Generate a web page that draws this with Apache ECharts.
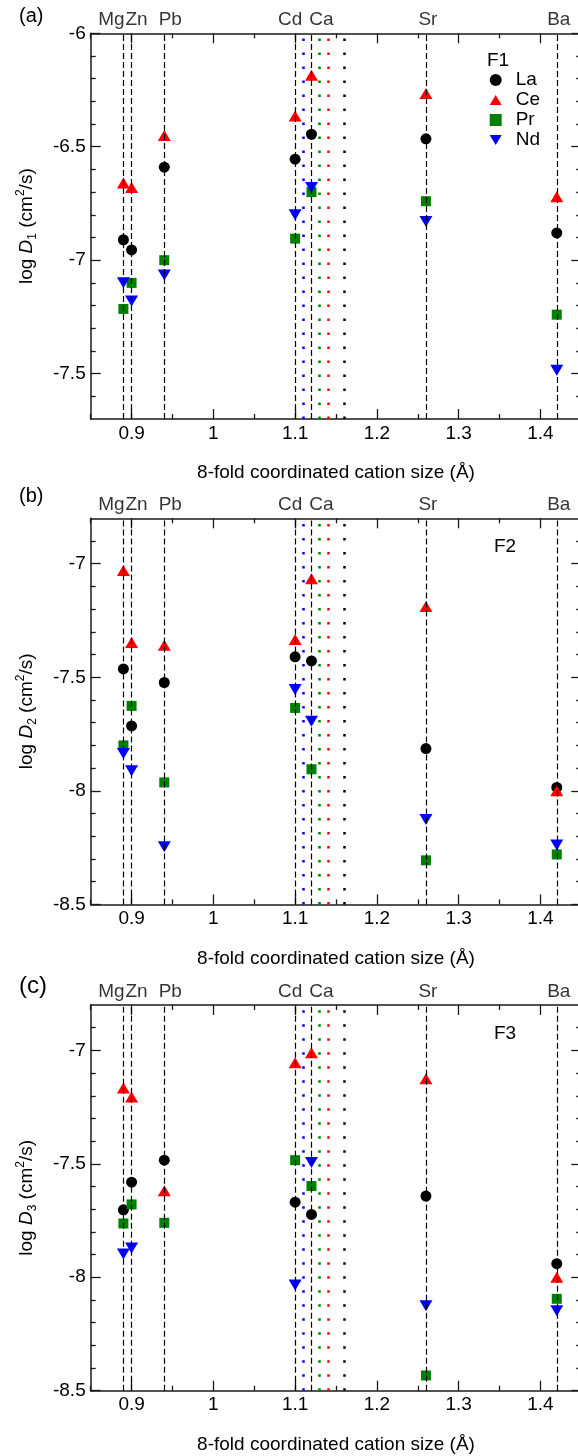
<!DOCTYPE html>
<html><head><meta charset="utf-8">
<script src="https://cdn.jsdelivr.net/npm/echarts@6/dist/echarts.min.js"></script>
<style>html,body{margin:0;padding:0;background:#fff}#c{width:578px;height:1456px}</style>
</head><body><div id="c"></div>
<script>
// ---------- data ----------
const cations = ['Mg', 'Zn', 'Pb', 'Cd', 'Ca', 'Sr', 'Ba'];
const cationSize = [0.89, 0.90, 0.94, 1.10, 1.12, 1.26, 1.42];
const dottedSize = [1.11, 1.13, 1.14, 1.16];
const dottedColor = ['#0000ff', '#008000', '#ff0000', '#000000'];
const species = ['La', 'Ce', 'Pr', 'Nd'];

const F1_La = [-6.91, -6.955, -6.59, -6.555, -6.445, -6.465, -6.88];
const F1_Ce = [-6.66, -6.68, -6.45, -6.365, -6.185, -6.265, -6.72];
const F1_Pr = [-7.215, -7.10, -7.00, -6.905, -6.70, -6.74, -7.24];
const F1_Nd = [-7.10, -7.18, -7.065, -6.80, -6.68, -6.83, -7.485];

const F2_La = [-7.463, -7.714, -7.523, -7.41, -7.428, -7.814, -7.985];
const F2_Ce = [-7.03, -7.347, -7.359, -7.334, -7.066, -7.188, -8.0];
const F2_Pr = [-7.80, -7.626, -7.963, -7.635, -7.905, -8.306, -8.28];
const F2_Nd = [-7.836, -7.912, -8.246, -7.554, -7.694, -8.126, -8.239];

const F3_La = [-7.703, -7.581, -7.484, -7.669, -7.723, -7.642, -7.94];
const F3_Ce = [-7.166, -7.205, -7.619, -7.054, -7.01, -7.125, -8.0];
const F3_Pr = [-7.763, -7.679, -7.76, -7.484, -7.598, -8.433, -8.095];
const F3_Nd = [-7.897, -7.871, null, -8.034, -7.494, -8.126, -8.148];

const xMin = 0.85, xMax = 1.45;
const xMajorTicks = [0.9, 1.0, 1.1, 1.2, 1.3, 1.4];
const xMinorTicks = [0.85, 0.95, 1.05, 1.15, 1.25, 1.35, 1.45];
const yMinA = -7.7, yMaxA = -6;
const yMajorTicksA = [-7.5, -7, -6.5, -6];
const yMinorTicksA = [-7.6, -7.4, -7.3, -7.2, -7.1, -6.9, -6.8, -6.7, -6.6, -6.4, -6.3, -6.2, -6.1];
const yMinBC = -8.5, yMaxBC = -6.8;
const yMajorTicksBC = [-8.5, -8, -7.5, -7];
const yMinorTicksBC = [-8.4, -8.3, -8.2, -8.1, -7.9, -7.8, -7.7, -7.6, -7.4, -7.3, -7.2, -7.1, -6.9];

const panelTags = ['(a)', '(b)', '(c)'];
const setTags = ['F1', 'F2', 'F3'];
const ySubs = ['1', '2', '3'];
const xTitle = '8-fold coordinated cation size (Å)';

// ---------- styling / layout ----------
const FONT = '"Liberation Sans", Arial, Helvetica, sans-serif';
const AX = '#1a1a1a';
const gridTops = [33.3, 518.3, 1005];
const gridHeights = [385.7, 386.1, 385.7];
const labelOffsets = [[-12, 0], [5, 0], [6, 0], [-5, 0], [10, 0], [2, 0], [2, 0]];
const DOWN_TRI = 'path://M0,0L2,0L1,1.7Z';
const UP_TRI = 'path://M1,0L2,1.7L0,1.7Z';
const markerStyle = {
  La: {symbol: 'circle', symbolSize: 11, color: '#000000', icon: 'circle'},
  Ce: {symbol: UP_TRI, symbolSize: [13, 11], color: '#ff0000', icon: UP_TRI},
  Pr: {symbol: 'rect', symbolSize: 10, color: '#008000', icon: 'rect'},
  Nd: {symbol: DOWN_TRI, symbolSize: [13, 11], color: '#0000ff', icon: DOWN_TRI}
};

const panels = [
  {vals: {La: F1_La, Ce: F1_Ce, Pr: F1_Pr, Nd: F1_Nd}, yMin: yMinA, yMax: yMaxA, yMaj: yMajorTicksA, yMin2: yMinorTicksA},
  {vals: {La: F2_La, Ce: F2_Ce, Pr: F2_Pr, Nd: F2_Nd}, yMin: yMinBC, yMax: yMaxBC, yMaj: yMajorTicksBC, yMin2: yMinorTicksBC},
  {vals: {La: F3_La, Ce: F3_Ce, Pr: F3_Pr, Nd: F3_Nd}, yMin: yMinBC, yMax: yMaxBC, yMaj: yMajorTicksBC, yMin2: yMinorTicksBC}
];

const grids = [], xAxes = [], yAxes = [], series = [];

function axisDef(gi, pos, ticks, len, showLine, lbl, min, max) {
  const a = {
    type: 'value', gridIndex: gi, position: pos, min: min, max: max,
    splitLine: {show: false},
    axisLine: {show: showLine, onZero: false, lineStyle: {color: AX, width: 1.5}},
    axisTick: {show: true, inside: true, length: len, customValues: ticks, lineStyle: {color: AX, width: 1.3}},
    axisLabel: {show: false},
    axisPointer: {show: false}
  };
  if (lbl) {
    a.axisLabel = {show: true, customValues: ticks, margin: 5, fontSize: 19, color: '#000', fontFamily: FONT};
  }
  return a;
}

panels.forEach((p, i) => {
  grids.push({left: 90.7, top: gridTops[i], width: 490.6, height: gridHeights[i], containLabel: false, outerBoundsMode: 'none'});
  const xi = xAxes.length, yi = yAxes.length;
  const xMain = axisDef(i, 'bottom', xMajorTicks, 10, true, true, xMin, xMax);
  xMain.name = xTitle; xMain.nameLocation = 'middle'; xMain.nameGap = 43;
  xMain.nameTextStyle = {fontSize: 19, color: '#000', fontFamily: FONT, lineHeight: 22};
  xAxes.push(xMain);
  xAxes.push(axisDef(i, 'bottom', xMinorTicks, 5, false, false, xMin, xMax));
  xAxes.push(axisDef(i, 'top', xMajorTicks, 10, true, false, xMin, xMax));
  xAxes.push(axisDef(i, 'top', xMinorTicks, 5, false, false, xMin, xMax));

  const yMain = axisDef(i, 'left', p.yMaj, 10, true, true, p.yMin, p.yMax);
  yMain.name = '{n|log }{i|D}{s|' + ySubs[i] + '}{n| (cm}{p|2}{n|/s)}';
  yMain.nameLocation = 'middle'; yMain.nameGap = 52;
  yMain.nameTextStyle = {
    color: '#000', fontFamily: FONT, fontSize: 19,
    rich: {
      n: {fontSize: 19, fontFamily: FONT, color: '#000', lineHeight: 24},
      i: {fontSize: 19, fontFamily: FONT, color: '#000', fontStyle: 'italic', lineHeight: 24},
      s: {fontSize: 12, fontFamily: FONT, color: '#000', verticalAlign: 'bottom', lineHeight: 12},
      p: {fontSize: 12, fontFamily: FONT, color: '#000', verticalAlign: 'top', lineHeight: 12}
    }
  };
  yAxes.push(yMain);
  yAxes.push(axisDef(i, 'left', p.yMin2, 5, false, false, p.yMin, p.yMax));
  yAxes.push(axisDef(i, 'right', p.yMaj, 10, true, false, p.yMin, p.yMax));
  yAxes.push(axisDef(i, 'right', p.yMin2, 5, false, false, p.yMin, p.yMax));

  // reference lines + cation labels
  const mlData = cationSize.map(x => ({xAxis: x, lineStyle: {type: [6, 3], color: '#000', width: 1.2}}))
    .concat(dottedSize.map((x, k) => ({xAxis: x, lineStyle: {type: [2.5, 11.5], color: dottedColor[k], width: 2.5}})));
  series.push({
    type: 'scatter', name: 'cations', xAxisIndex: xi, yAxisIndex: yi, clip: false, silent: true, z: 1,
    symbolSize: 0,
    data: cationSize.map((x, k) => ({
      value: [x, p.yMax], name: cations[k],
      label: {show: true, position: 'top', distance: 4, offset: labelOffsets[k], formatter: cations[k],
              fontSize: 19, color: '#000', fontFamily: FONT}
    })),
    markLine: {silent: true, symbol: ['none', 'none'], label: {show: false}, animation: false, data: mlData}
  });

  species.forEach(sp => {
    const st = markerStyle[sp];
    series.push({
      type: 'scatter', name: sp, xAxisIndex: xi, yAxisIndex: yi, z: 3,
      symbol: st.symbol, symbolSize: st.symbolSize, symbolKeepAspect: false,
      itemStyle: {color: st.color, opacity: 1},
      data: cationSize.map((x, k) => [x, p.vals[sp][k]]).filter(d => d[1] !== null)
    });
  });
});

const graphics = [];
const tagTops = [6, 486, 974];
const tagSizes = [20, 20, 24];
panelTags.forEach((t, i) => graphics.push({type: 'text', left: 19, top: tagTops[i],
  style: {text: t, fontSize: tagSizes[i], fontFamily: FONT, fill: '#000'}}));
const setLefts = [487, 494, 494];
const setTops = [51.5, 537, 1024];
setTags.forEach((t, i) => graphics.push({type: 'text', left: setLefts[i], top: setTops[i],
  style: {text: t, fontSize: 19, fontFamily: FONT, fill: '#000'}}));

const option = {
  animation: false,
  backgroundColor: '#fff',
  grid: grids,
  xAxis: xAxes,
  yAxis: yAxes,
  legend: {
    data: species.map(sp => ({name: sp, icon: markerStyle[sp].icon})),
    orient: 'vertical', left: 489.7, top: 70,
    itemWidth: 12, itemHeight: 12, itemGap: 0, padding: 0,
    symbolKeepAspect: true,
    selectedMode: false,
    textStyle: {fontSize: 19, color: '#000', fontFamily: FONT, lineHeight: 20, padding: [0, 0, 0, 9]}
  },
  graphic: graphics,
  series: series
};
const chart = echarts.init(document.getElementById('c'));
chart.setOption(option);
</script></body></html>
